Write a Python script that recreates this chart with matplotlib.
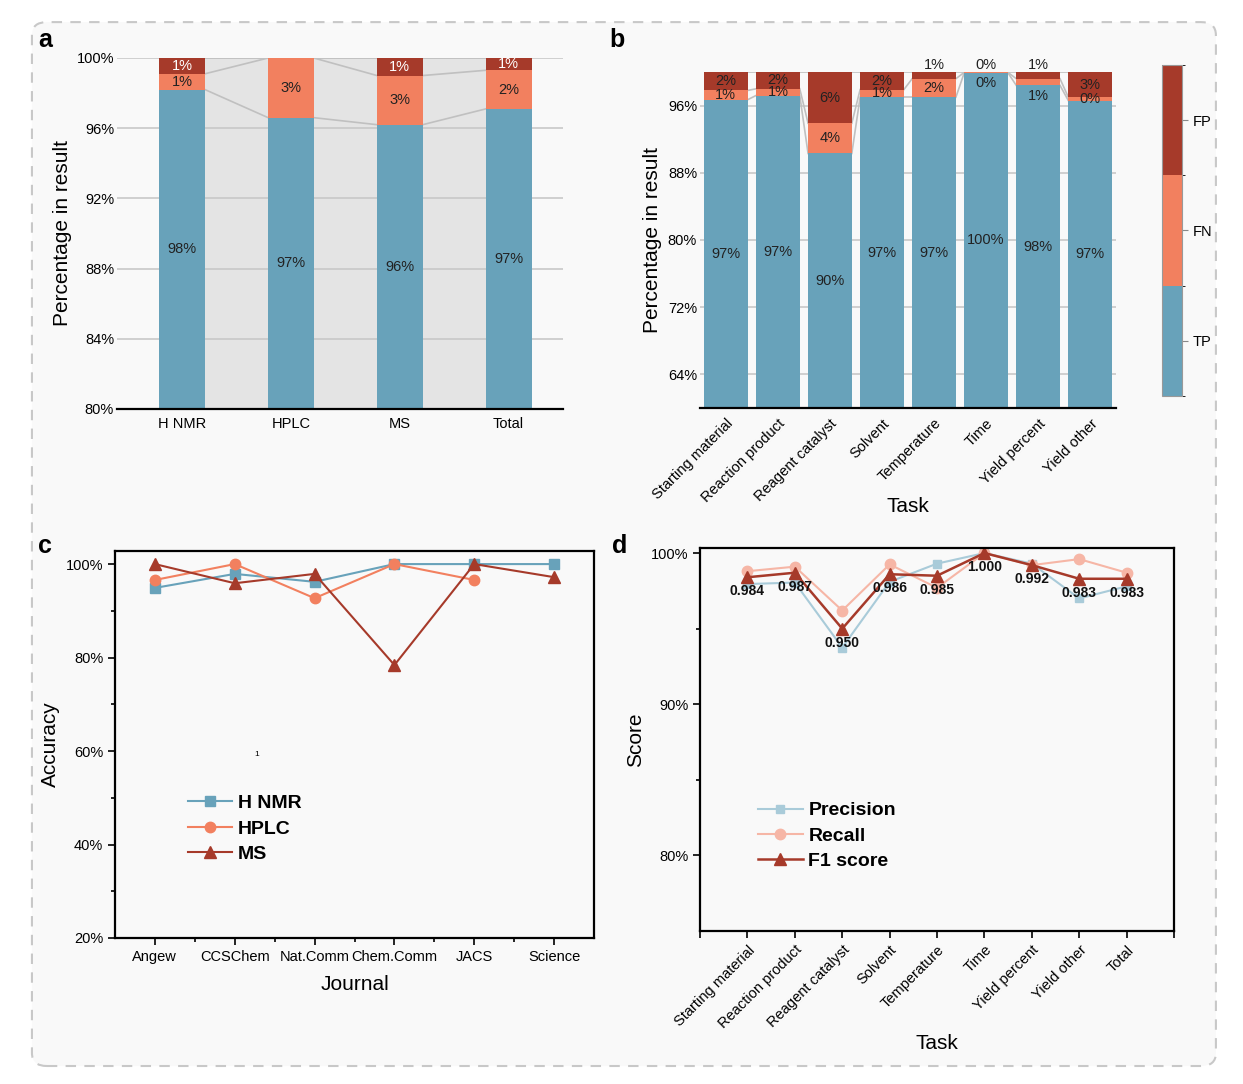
import numpy as np
import matplotlib
matplotlib.use("Agg")
import matplotlib.pyplot as plt
from matplotlib.patches import FancyBboxPatch
from matplotlib.colors import ListedColormap, BoundaryNorm

plt.rcParams['font.family'] = ['Liberation Sans', 'DejaVu Sans']

# colours
c_tp = '#68a2ba'
c_fn = '#f2805f'
c_fp = '#a63a2a'
c_prec = '#a9cbd9'
c_rec = '#f6b6a6'
bg = '#f9f9f9'

# panel a data (percent)
methods = ['H NMR', 'HPLC', 'MS', 'Total']
a_tp = [98.2, 96.6, 96.2, 97.1]
a_fn = [0.9, 3.4, 2.8, 2.2]
a_fp = [0.9, 0.0, 1.0, 0.7]

# panel b data (percent)
tasks_b = ['Starting material', 'Reaction product', 'Reagent catalyst', 'Solvent',
           'Temperature', 'Time', 'Yield percent', 'Yield other']
b_tp = [96.7, 97.2, 90.3, 97.0, 97.0, 99.9, 98.4, 96.6]
b_fn = [1.1, 0.8, 3.6, 0.9, 2.2, 0.05, 0.8, 0.4]
b_fp = [2.2, 2.0, 6.1, 2.1, 0.8, 0.05, 0.8, 3.0]

# panel c data (percent)
journals = ['Angew', 'CCSChem', 'Nat.Comm', 'Chem.Comm', 'JACS', 'Science']
c_hnmr = [94.9, 97.9, 96.2, 100, 100, 100]
c_hplc = [96.6, 100, 92.7, 100, 96.6, np.nan]
c_ms = [100, 95.9, 97.9, 78.4, 100, 97.2]

# panel d data (percent)
tasks_d = ['Starting material', 'Reaction product', 'Reagent catalyst', 'Solvent',
           'Temperature', 'Time', 'Yield percent', 'Yield other', 'Total']
d_prec = [97.95, 98.05, 93.75, 98.1, 99.3, 100, 99.3, 97.0, 97.8]
d_rec = [98.8, 99.1, 96.2, 99.25, 97.7, 100, 99.2, 99.6, 98.7]
d_f1 = [98.4, 98.7, 95.0, 98.6, 98.5, 100, 99.2, 98.3, 98.3]

fig = plt.figure(figsize=(12.43, 10.84), dpi=100, facecolor='white')
frame = FancyBboxPatch((0.0257, 0.0166), 0.9525, 0.963, transform=fig.transFigure,
                       boxstyle='round,pad=0,rounding_size=0.012', facecolor=bg,
                       edgecolor='#c8c8c8', linestyle=(0, (5, 4)), linewidth=1.5,
                       zorder=-10)
fig.patches.append(frame)


def stacked(ax, tp, fn, fp, width, ymin, fill_gaps, fp_white):
    x = np.arange(len(tp))
    tp = np.array(tp); fn = np.array(fn); fp = np.array(fp)
    ax.bar(x, tp - ymin, width, bottom=ymin, color=c_tp, zorder=3)
    ax.bar(x, fn, width, bottom=tp, color=c_fn, zorder=3)
    ax.bar(x, fp, width, bottom=tp + fn, color=c_fp, zorder=3)
    h = width / 2
    for i in range(len(x) - 1):
        xs = [x[i] + h, x[i + 1] - h]
        if fill_gaps:
            ax.fill_between(xs, ymin, 100, color='#e4e4e4', zorder=0.1, lw=0)
        for lev in (tp, tp + fn, tp + fn + fp):
            ax.plot(xs, [lev[i], lev[i + 1]], color='#c0c0c0', lw=1.2, zorder=2)
    for i in range(len(x)):
        ax.text(x[i], (ymin + tp[i]) / 2, f'{tp[i]:.0f}%', ha='center', va='center',
                fontsize=10.5, color='#222222', zorder=5)
        if fn[i] > 0:
            yfn = tp[i] + fn[i] / 2
            if fn[i] < 0.9 and fp[i] < 1.5:
                yfn = tp[i] - 1.2
            ax.text(x[i], yfn, f'{round(fn[i]):.0f}%', ha='center', va='center',
                    fontsize=10.5, color='#222222', zorder=5)
        if fp[i] > 0:
            top = tp[i] + fn[i]
            yfp = top + fp[i] / 2
            col = 'white' if fp_white else '#222222'
            if fp[i] < 1.5 and not fp_white:
                yfp = 100.8
            ax.text(x[i], yfp, f'{round(fp[i]):.0f}%', ha='center', va='center',
                    fontsize=10.5, color=col, zorder=5, clip_on=False)
    for s in ('top', 'right', 'left'):
        ax.spines[s].set_visible(False)
    ax.spines['bottom'].set_linewidth(1.6)
    ax.spines['bottom'].set_zorder(6)
    ax.tick_params(axis='x', length=0, labelsize=10.5, pad=6)
    ax.tick_params(axis='y', length=0, labelsize=10.5, pad=2)
    ax.yaxis.grid(True, color='#c8c8c8', lw=1.2)
    ax.set_axisbelow(True)
    ax.set_facecolor('none')


# ---- panel a
ax_a = fig.add_axes([0.094, 0.6227, 0.359, 0.3238])
stacked(ax_a, a_tp, a_fn, a_fp, 0.42, 80, True, True)
ax_a.set_xlim(-0.6, 3.5)
ax_a.set_ylim(80, 100)
ax_a.set_yticks([80, 84, 88, 92, 96, 100])
ax_a.set_yticklabels([f'{v}%' for v in [80, 84, 88, 92, 96, 100]])
ax_a.set_xticks(range(len(methods)))
ax_a.set_xticklabels(methods)
ax_a.set_ylabel('Percentage in result', fontsize=15, labelpad=3)

# ---- panel b
ax_b = fig.add_axes([0.563, 0.6236, 0.335, 0.31])
stacked(ax_b, b_tp, b_fn, b_fp, 0.84, 60, False, False)
ax_b.set_xlim(-0.5, 7.5)
ax_b.set_ylim(60, 100)
ax_b.set_yticks([64, 72, 80, 88, 96])
ax_b.set_yticklabels([f'{v}%' for v in [64, 72, 80, 88, 96]])
ax_b.set_xticks(range(len(tasks_b)))
ax_b.set_xticklabels(tasks_b, rotation=45, ha='right', rotation_mode='anchor')
ax_b.set_ylabel('Percentage in result', fontsize=15, labelpad=4)
ax_b.set_xlabel('Task', fontsize=15, labelpad=-6)

cax = fig.add_axes([0.9348, 0.6347, 0.0161, 0.3054])
cmap = ListedColormap([c_tp, c_fn, c_fp])
norm = BoundaryNorm([0, 1, 2, 3], 3)
cb = fig.colorbar(plt.cm.ScalarMappable(norm=norm, cmap=cmap), cax=cax,
                  ticks=[0.5, 1.5, 2.5])
cb.ax.set_yticklabels(['TP', 'FN', 'FP'])
cb.ax.tick_params(labelsize=10.5, length=4, color='#888888')
cb.outline.set_edgecolor('#999999')

# ---- panel c
ax_c = fig.add_axes([0.0925, 0.1347, 0.3854, 0.357])
xc = np.arange(len(journals))
ax_c.plot(xc, c_hnmr, color=c_tp, marker='s', ms=6.5, lw=1.5, label='H NMR')
ax_c.plot(xc, c_hplc, color=c_fn, marker='o', ms=7.5, lw=1.5, label='HPLC')
ax_c.plot(xc, c_ms, color=c_fp, marker='^', ms=8, lw=1.5, label='MS')
ax_c.set_xlim(-0.5, 5.5)
ax_c.set_ylim(20, 102.8)
ax_c.set_yticks([20, 40, 60, 80, 100])
ax_c.set_yticklabels([f'{v}%' for v in [20, 40, 60, 80, 100]])
ax_c.set_yticks([30, 50, 70, 90], minor=True)
ax_c.set_xticks(xc)
ax_c.set_xticklabels(journals)
ax_c.set_xticks(xc[:-1] + 0.5, minor=True)
ax_c.tick_params(which='major', length=5, width=1.2, labelsize=10.5)
ax_c.tick_params(which='minor', length=3, width=1.2)
for s in ax_c.spines.values():
    s.set_linewidth(1.6)
ax_c.set_facecolor('none')
ax_c.set_ylabel('Accuracy', fontsize=15, labelpad=4)
ax_c.set_xlabel('Journal', fontsize=15, labelpad=8)
ax_c.text(0.29, 0.47, '1', transform=ax_c.transAxes, fontsize=6)
ax_c.legend(loc='center left', bbox_to_anchor=(0.115, 0.282), frameon=False,
            prop={'weight': 'bold', 'size': 14}, handlelength=2.3,
            handletextpad=0.3, labelspacing=0.4)

# ---- panel d
ax_d = fig.add_axes([0.5632, 0.1411, 0.3813, 0.3533])
xd = np.arange(len(tasks_d))
ax_d.plot(xd, d_prec, color=c_prec, marker='s', ms=6, lw=1.5, label='Precision')
ax_d.plot(xd, d_rec, color=c_rec, marker='o', ms=7.5, lw=1.5, label='Recall')
ax_d.plot(xd, d_f1, color=c_fp, marker='^', ms=8, lw=1.8, label='F1 score')
for i, v in enumerate(d_f1):
    ax_d.annotate(f'{v / 100:.3f}', (xd[i], v), xytext=(0, -5),
                  textcoords='offset points', ha='center', va='top',
                  fontsize=10, fontweight='bold', color='#111111')
ax_d.set_xlim(-1, 9)
ax_d.set_ylim(75, 100.33)
ax_d.set_yticks([80, 90, 100])
ax_d.set_yticklabels(['80%', '90%', '100%'])
ax_d.set_yticks([85, 95], minor=True)
ax_d.set_xticks(range(-1, 10))
ax_d.set_xticklabels([''] + tasks_d + [''], rotation=45, ha='right',
                     rotation_mode='anchor')
ax_d.tick_params(which='major', length=5, width=1.2, labelsize=10.5)
ax_d.tick_params(which='minor', length=3, width=1.2)
for s in ax_d.spines.values():
    s.set_linewidth(1.6)
ax_d.set_facecolor('none')
ax_d.set_ylabel('Score', fontsize=15, labelpad=4)
ax_d.set_xlabel('Task', fontsize=15, labelpad=2)
ax_d.legend(loc='center left', bbox_to_anchor=(0.085, 0.248), frameon=False,
            prop={'weight': 'bold', 'size': 14}, handlelength=2.3,
            handletextpad=0.3, labelspacing=0.4)

# panel letters
for lbl, (px, py) in zip('abcd', [(38, 40), (609, 40), (38, 546), (612, 546)]):
    fig.text(px / 1243, 1 - py / 1084, lbl, fontsize=18, fontweight='bold',
             va='center', ha='left')

fig.savefig('out.png', dpi=100, facecolor='white')
